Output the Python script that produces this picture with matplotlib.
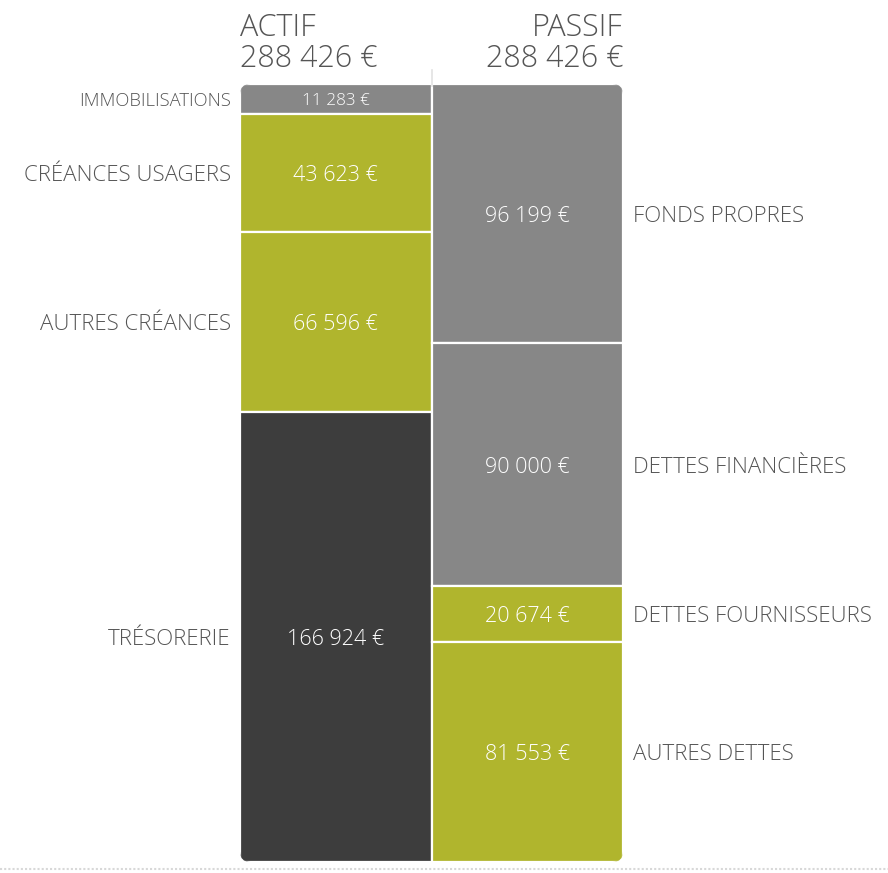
import matplotlib
matplotlib.use("Agg")
import matplotlib.pyplot as plt
from matplotlib.patches import FancyBboxPatch
from matplotlib.transforms import blended_transform_factory
import numpy as np

plt.rcParams['font.family'] = ['Open Sans', 'DejaVu Sans']

actif_labels = ["IMMOBILISATIONS", "CRÉANCES USAGERS", "AUTRES CRÉANCES", "TRÉSORERIE"]
actif_values = [11283, 43623, 66596, 166924]
actif_colors = ["#878787", "#b0b52d", "#b0b52d", "#3d3d3d"]

passif_labels = ["FONDS PROPRES", "DETTES FINANCIÈRES", "DETTES FOURNISSEURS", "AUTRES DETTES"]
passif_values = [96199, 90000, 20674, 81553]
passif_colors = ["#878787", "#878787", "#b0b52d", "#b0b52d"]

def euro(v):
    return f"{v:,}".replace(",", " ") + " €"

W, H = 888, 873
fig = plt.figure(figsize=(W / 100, H / 100), dpi=100)
fig.patch.set_facecolor("white")
ax = fig.add_axes([240 / W, 1 - 862 / H, (623 - 240) / W, (862 - 84) / H])
ax.set_xlim(-0.5, 1.5)
total = sum(actif_values)
ax.set_ylim(total, 0)
ax.axis("off")

clip = FancyBboxPatch((0, 0), 1, 1, boxstyle="round,pad=0,rounding_size=0.027",
                      transform=ax.transAxes, facecolor="none", edgecolor="none",
                      mutation_aspect=383 / 778)
ax.add_patch(clip)

txt = "#555555"
tr_left = blended_transform_factory(ax.transAxes, ax.transData)

def column(x, values, colors, labels, side):
    bottoms = np.concatenate([[0], np.cumsum(values)[:-1]])
    bars = ax.bar([x] * len(values), values, width=1.0, bottom=bottoms,
                  color=colors, edgecolor="white", linewidth=1.6)
    for b in bars:
        b.set_clip_path(clip)
    for v, b0, lab in zip(values, bottoms, labels):
        yc = b0 + v / 2
        small = v < 15000
        ax.text(x, yc, euro(v), color="white", ha="center", va="center_baseline",
                fontsize=12.3 if small else 15.5, fontweight="light")
        if side == "left":
            ax.text(-0.024, yc, lab, transform=tr_left, ha="right", va="center_baseline",
                    color=txt, fontsize=13.2 if small else 16, fontweight="light")
        else:
            ax.text(1.026, yc, lab, transform=tr_left, ha="left", va="center_baseline",
                    color=txt, fontsize=16, fontweight="light")

column(0, actif_values, actif_colors, actif_labels, "left")
column(1, passif_values, passif_colors, passif_labels, "right")

# separator between columns, extending above
fig.add_artist(plt.Line2D([431.5 / W, 431.5 / W], [1 - 70 / H, 1 - 86 / H],
                          color="#e2e2e2", linewidth=1.2))
# bottom rule
fig.add_artist(plt.Line2D([0, 1], [1 - 869 / H, 1 - 869 / H],
                          color="#d8d8d8", linewidth=1.5, linestyle=(0, (1, 1))))

fig.text(240 / W, 1 - 36 / H, "ACTIF", ha="left", va="baseline",
         fontsize=22, color=txt, fontweight="light")
fig.text(240 / W, 1 - 67 / H, euro(sum(actif_values)), ha="left", va="baseline",
         fontsize=22, color=txt, fontweight="light")
fig.text(623 / W, 1 - 36 / H, "PASSIF", ha="right", va="baseline",
         fontsize=22, color=txt, fontweight="light")
fig.text(623 / W, 1 - 67 / H, euro(sum(passif_values)), ha="right", va="baseline",
         fontsize=22, color=txt, fontweight="light")

fig.savefig("out.png", dpi=100, facecolor="white")
